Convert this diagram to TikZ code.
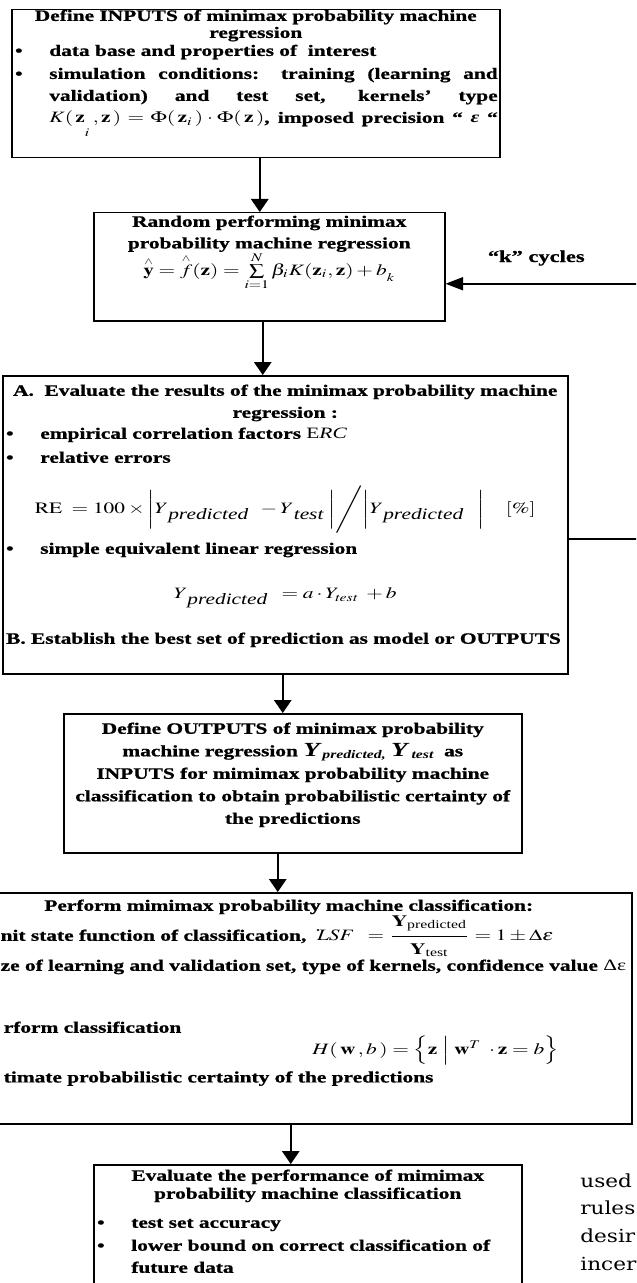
\documentclass[tikz,border=0pt]{standalone}
\usepackage{amsmath}
\usepackage{mathptmx}
\usepackage[no-math]{fontspec}
\setmainfont{Liberation Serif}[BoldFeatures={FakeBold=0.8}]
\newfontfamily\bodyfont{DejaVu Serif}
\usepackage{graphicx}
\usetikzlibrary{arrows.meta,positioning}

% the scan is wider than high, so every text is stretched
\newcommand{\wide}[1]{\scalebox{1.35}[1]{#1}}
\newcommand{\boxtext}[3]{\wide{\begin{minipage}[t][#2][t]{#1}\centering
  \fontsize{9.5pt}{13pt}\bfseries\selectfont\lineskiplimit=-\maxdimen
  #3\par\end{minipage}}}
\newcommand{\bitem}[1]{\makebox[\linewidth][l]{\hspace{1.5pt}\makebox[15.2pt][l]{\textbullet}#1}}
\newcommand{\bjust}[1]{\makebox[\linewidth][l]{\hspace{1.5pt}\makebox[15.2pt][l]{\textbullet}\makebox[\dimexpr\linewidth-17.6pt\relax][s]{#1}}}
\newcommand{\bcont}[1]{\makebox[\linewidth][l]{\hspace{16.7pt}\makebox[\dimexpr\linewidth-17.6pt\relax][s]{#1}}}
\newcommand{\bcontl}[1]{\makebox[\linewidth][l]{\hspace{16.7pt}#1}}
\newcommand{\lsub}[1]{\raisebox{-0.8ex}{\mdseries\itshape #1}}
\newcommand{\hatover}[1]{\overset{\scriptscriptstyle\wedge}{#1}}

\begin{document}
\begin{tikzpicture}[x=0.6pt, y=-0.6pt,
    flowbox/.style={draw, line width=0.9pt, inner sep=0pt, anchor=north west},
    downarrow/.style={line width=0.9pt, -{Triangle[length=7.8pt,width=10.5pt]}},
    backarrow/.style={line width=0.9pt, -{Triangle[length=10.5pt,width=7.8pt]}}]
  \useasboundingbox (0,0) rectangle (636,1283);
  \clip (0,0) rectangle (636,1283);

  % regression part
  \node[flowbox] (inputs) at (11,9) {\boxtext{216.89pt}{88.8pt}{%
    \rule{0pt}{6.6pt}Define INPUTS of minimax probability machine\\[-2.8pt]
    regression\\[-2.2pt]
    \bitem{data base and properties of\ \ interest}\\[0.8pt]
    \bjust{simulation conditions: training (learning and}\\[0.2pt]
    \bcont{validation) and test set, kernels’ type}\\[0.2pt]
    \bcont{$K(\,\mathbf{z}_{\raisebox{-7pt}{$\scriptstyle i$}}\,,\mathbf{z}\,)=\Phi(\,\mathbf{z}_{i}\,)\cdot\Phi(\,\mathbf{z}\,)$, imposed precision “ \textit{ε} “}}};

  \node[flowbox] (random) at (93,212) {\boxtext{156pt}{64.8pt}{%
    \rule{0pt}{8.4pt}Random performing minimax\\[0pt]
    probability machine regression\\[3.2pt]
    $\hatover{\mathbf{y}}=\hatover{f}(\mathbf{z})=\sum\limits_{i=1}^{N}\beta_{i}K(\mathbf{z}_{i},\mathbf{z})+b_{\raisebox{-2pt}{$\scriptstyle k$}}$}};

  \node[flowbox] (evalreg) at (2,375) {\boxtext{251.11pt}{178.8pt}{%
    \rule{0pt}{12pt}A.\ \ Evaluate the results of the minimax probability machine\\[0.2pt]
    regression :\\[-0.4pt]
    \bitem{empirical correlation factors {\mdseries E\textit{RC}}}\\[1.4pt]
    \bitem{relative errors}\\[17.6pt]
    $\mathrm{RE}\;=100\times\biggl|Y\lsub{predicted}\;\;-Y\lsub{test}\;\biggr|\Bigg/\biggl|Y\lsub{predicted}\;\;\;\biggr|\quad[\%]$\\[11pt]
    \bitem{simple equivalent linear regression}\\[14pt]
    $Y\lsub{predicted}\;\;=a\cdot Y_{\mathit{test}}\;+b$\\[14pt]
    \makebox[\linewidth][l]{\hspace{1.5pt}B.\ Establish the best set of prediction as model or OUTPUTS}}};

  \node[flowbox] (outputs) at (63,713) {\boxtext{203.56pt}{83.4pt}{%
    \rule{0pt}{12pt}Define OUTPUTS of minimax probability\\[0.5pt]
    machine regression {\large\itshape Y}\raisebox{-1.5pt}{\scriptsize\itshape\,predicted,}\ {\large\itshape Y}\raisebox{-1.5pt}{\scriptsize\itshape\ test}\ \ as\\[0.5pt]
    INPUTS for mimimax probability machine\\[0.5pt]
    classification to obtain probabilistic certainty of\\[0.5pt]
    the predictions}};

  % classification part
  \node[flowbox] (classify) at (-55,892) {\boxtext{304.89pt}{138.6pt}{%
    \rule{0pt}{10.8pt}Perform mimimax probability machine classification:\\[5pt]
    \makebox[\linewidth][l]{\hspace{24.4pt}nit state function of classification,\ \ $\mathit{LSF}\;\;=\dfrac{\rule[-5pt]{0pt}{0pt}\mathbf{Y}_{\text{\mdseries predicted}}}{\rule{0pt}{9pt}\mathbf{Y}_{\text{\mdseries test}}}=1\pm\Delta\varepsilon$}\\[5pt]
    \makebox[\linewidth][l]{\hspace{24.4pt}ze of learning and validation set, type of kernels, confidence value {\mdseries Δε}}\\[24.2pt]
    \makebox[\linewidth][l]{\hspace{25.8pt}rform classification}\\[0pt]
    \makebox[\linewidth][l]{\hspace{163pt}$H(\,\mathbf{w}\,,b\,)=\Bigl\{\mathbf{z}\Bigm|\mathbf{w}^{T}\;\cdot\mathbf{z}=b\Bigr\}$}\\[3.8pt]
    \makebox[\linewidth][l]{\hspace{25.8pt}timate probabilistic certainty of the predictions}}};
  \fill (318,930) ellipse (0.9pt and 0.6pt);

  \node[flowbox] (perfclass) at (93,1164) {\boxtext{190.22pt}{90pt}{%
    \rule{0pt}{9.6pt}Evaluate the performance of mimimax\\[-2.2pt]
    probability machine classification\\[4.4pt]
    \bitem{test set accuracy}\\[0.8pt]
    \bitem{lower bound on correct classification of}\\[0.2pt]
    \bcontl{future data}}};

  % connectors
  \path ([xshift=2.4pt]inputs.south) coordinate (a1);
  \draw[downarrow] (a1) -- (a1 |- random.north);
  \path ([xshift=-3.9pt]random.south) coordinate (a2);
  \draw[downarrow] (a2) -- (a2 |- evalreg.north);
  \path ([xshift=-1.5pt]evalreg.south) coordinate (a3);
  \draw[downarrow] (a3) -- (a3 |- outputs.north);
  \path ([xshift=-9pt]outputs.south) coordinate (a4);
  \draw[downarrow] (a4) -- (a4 |- classify.north);
  \path ([xshift=1.2pt]classify.south) coordinate (a5);
  \draw[downarrow] (a5) -- (a5 |- perfclass.north);

  % loop back for the k cycles
  \draw[backarrow] ([yshift=-8.4pt]evalreg.east) -- ++(120,0) |- ([yshift=-10.2pt]random.east);
  \node[anchor=base east, inner sep=0pt] (cycles) at (585,262)
    {\wide{\fontsize{10pt}{12pt}\bfseries\selectfont “k” cycles}};

  % running text of the page
  \node[anchor=base west, inner sep=0pt] (bodytext) at (580,1187)
    {\scalebox{1.2}[1]{\parbox[t]{40pt}{\bodyfont\fontsize{10.8pt}{16.6pt}\selectfont used\\rules\\desir\\incer}}};
\end{tikzpicture}
\end{document}
